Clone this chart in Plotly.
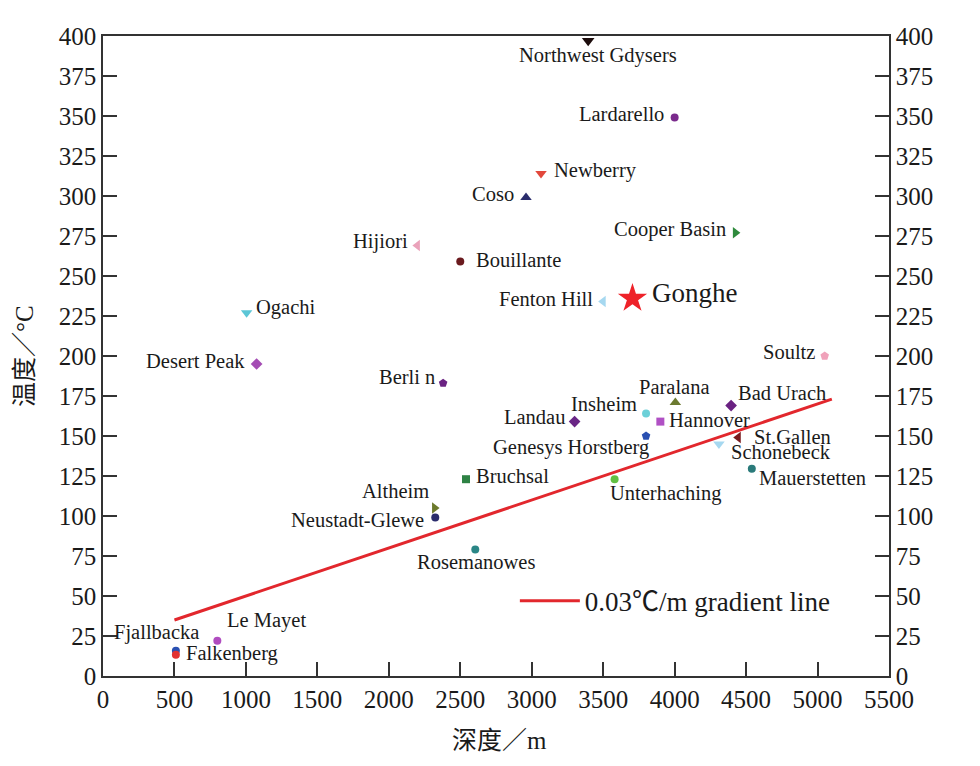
import plotly.graph_objects as go

# ---------------- data ----------------
sites = ["Northwest Gdysers", "Lardarello", "Newberry", "Coso", "Cooper Basin",
         "Hijiori", "Bouillante", "Fenton Hill", "Gonghe", "Ogachi",
         "Desert Peak", "Berli n", "Bruchsal", "Altheim", "Neustadt-Glewe",
         "Rosemanowes", "Landau", "Insheim", "Paralana", "Bad Urach",
         "Hannover", "Genesys Horstberg", "St.Gallen", "Schonebeck", "Mauerstetten",
         "Unterhaching", "Soultz", "Le Mayet", "Fjallbacka", "Falkenberg"]
depth = [3395, 4000, 3065, 2960, 4425,
         2200, 2500, 3500, 3705, 1005,
         1075, 2380, 2540, 2320, 2325,
         2605, 3300, 3800, 4005, 4395,
         3900, 3800, 4445, 4310, 4540,
         3580, 5050, 800, 510, 510]
temp = [397, 349, 314, 299, 277,
        269, 259, 234, 236, 227,
        195, 183, 123, 105, 99,
        79, 159, 164, 171, 169,
        159, 150, 149, 145, 129.5,
        123, 200, 22, 15.8, 13.3]

line_depth = [500, 5100]
line_temp = [35, 173]
line_name = "0.03℃/m gradient line"

x_ticks = list(range(0, 5501, 500))
y_ticks = list(range(0, 401, 25))

# ---------------- styles ----------------
symbols = ["triangle-down", "circle", "triangle-down", "triangle-up", "triangle-right",
           "triangle-left", "circle", "triangle-left", "star", "triangle-down",
           "diamond", "pentagon", "square", "triangle-right", "circle",
           "circle", "diamond", "circle", "triangle-up", "diamond",
           "square", "pentagon", "triangle-left", "triangle-down", "circle",
           "circle", "pentagon", "circle", "circle", "circle"]
colors = ["#1c0c0c", "#7a2a8c", "#e2483c", "#2a2c6c", "#2e8a3c",
          "#eaa2ba", "#6a1a1e", "#a6d8f0", "#ee2229", "#5cc6d6",
          "#a44cb4", "#6a2282", "#2e8244", "#6c7a2c", "#2a2c6c",
          "#2a8686", "#6a2686", "#6cd0d8", "#6c7a30", "#6a2282",
          "#b050c4", "#2a50b2", "#7a1a1e", "#a6d8f0", "#2a7a7a",
          "#62c042", "#f0a2ba", "#b04cc0", "#2a50b2", "#e23232"]
sizes = [11, 8, 10, 10, 10,
         10, 8, 10, 22, 10,
         9, 9, 8, 10, 8,
         8, 9, 8, 10, 9,
         8, 9, 10, 10, 8,
         8, 9, 8, 8, 8]
# label placement: (xanchor, yanchor, xshift, yshift)
label_pos = [("center", "middle", 10, -15), ("right", "middle", -9, 4), ("left", "middle", 11, 3),
             ("right", "middle", -10, 4), ("right", "middle", -7, 3), ("right", "middle", -7, 4),
             ("left", "middle", 14, 2), ("right", "middle", -8, 3), ("left", "middle", 18, 5),
             ("left", "middle", 7, 5), ("right", "middle", -10, 3), ("right", "middle", -6, 6),
             ("left", "middle", 8, 3), ("right", "middle", -4, 17), ("right", "middle", -9, -2),
             ("center", "middle", 1, -12), ("right", "middle", -8, 5), ("right", "middle", -7, 10),
             ("center", "middle", -1, 15), ("left", "middle", 5, 13), ("left", "middle", 7, 2),
             ("right", "middle", 5, -11), ("left", "middle", 14, 1), ("left", "middle", 10, -8),
             ("left", "middle", 5, -9), ("left", "middle", -7, -14), ("right", "middle", -8, 4),
             ("left", "middle", 8, 20), ("right", "middle", 25, 18), ("left", "middle", 8, 1)]

FONT = "Liberation Serif, Times New Roman, Noto Sans CJK SC, serif"

fig = go.Figure()

fig.add_trace(go.Scatter(
    x=line_depth, y=line_temp, mode="lines", name=line_name,
    line=dict(color="#e2272d", width=3), showlegend=True, hoverinfo="skip"))

for i in range(len(sites)):
    fig.add_trace(go.Scatter(
        x=[depth[i]], y=[temp[i]], mode="markers", showlegend=False,
        marker=dict(symbol=symbols[i], color=colors[i], size=sizes[i], line=dict(width=0)),
        name=sites[i], cliponaxis=False))

# invisible trace for right y-axis
fig.add_trace(go.Scatter(x=line_depth, y=line_temp, yaxis="y2", mode="lines",
                         line=dict(width=0, color="rgba(0,0,0,0)"), showlegend=False,
                         hoverinfo="skip"))

for i, s in enumerate(sites):
    xa, ya, xs, ys = label_pos[i]
    fig.add_annotation(x=depth[i], y=temp[i], text=s, showarrow=False,
                       xanchor=xa, yanchor=ya, xshift=xs, yshift=ys,
                       font=dict(family=FONT, size=27 if s == "Gonghe" else 20.5, color="#1a1a1a"))

fig.add_annotation(x=0.5, y=0, xref="paper", yref="paper", text="深度／m", showarrow=False,
                   xanchor="center", yanchor="middle", yshift=-64, xshift=3,
                   font=dict(family=FONT, size=25, color="#1a1a1a"))
fig.add_annotation(x=0, y=0.5, xref="paper", yref="paper", text="温度／°C", showarrow=False,
                   xanchor="center", yanchor="middle", xshift=-79, yshift=0, textangle=-90,
                   font=dict(family=FONT, size=25, color="#1a1a1a"))

axis_common = dict(showgrid=False, zeroline=False, showline=True, linecolor="#333333",
                   linewidth=1.5, ticks="inside", ticklen=14, tickwidth=1.5, tickcolor="#333333",
                   automargin=False,
                   tickfont=dict(family=FONT, size=25, color="#1a1a1a"))

fig.update_layout(
    width=980, height=766,
    margin=dict(l=95, r=99, t=28, b=98),
    paper_bgcolor="white", plot_bgcolor="white",
    xaxis=dict(range=[0, 5500], tickvals=x_ticks, mirror=True, **axis_common),
    yaxis=dict(range=[0, 400], tickvals=y_ticks, **axis_common),
    yaxis2=dict(range=[0, 400], tickvals=y_ticks, overlaying="y", side="right",
                matches="y", **axis_common),
    legend=dict(x=0.524, y=0.117, xanchor="left", yanchor="middle",
                bgcolor="rgba(0,0,0,0)", font=dict(family=FONT, size=27, color="#1a1a1a"),
                itemwidth=60),
    showlegend=True,
)

fig.write_html("out.html")
